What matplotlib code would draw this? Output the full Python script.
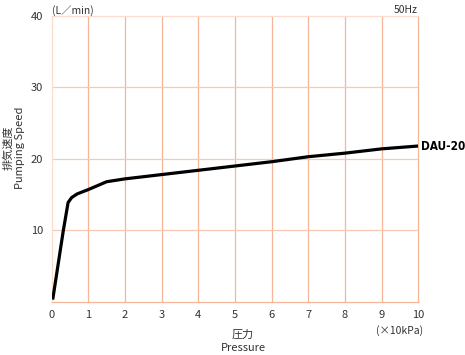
import matplotlib
matplotlib.use('Agg')
import matplotlib.pyplot as plt

plt.rcParams['font.family'] = ['Noto Sans CJK JP', 'DejaVu Sans']

# Curva DAU-20
pressure = [0.03, 0.32, 0.45, 0.55, 0.7, 1.0, 1.5, 2, 3, 4, 5, 6, 7, 8, 9, 10]
speed = [0.3, 10.0, 13.9, 14.6, 15.1, 15.7, 16.8, 17.2, 17.8, 18.4, 19.0, 19.6, 20.3, 20.8, 21.4, 21.8]
x_ticks = list(range(0, 11))
y_ticks = [10, 20, 30, 40]
model = 'DAU-20'

grid_v = '#f5b597'
grid_h = '#f8c9b3'
txt = '#333333'

fig = plt.figure(figsize=(4.65, 3.55), dpi=100)
ax = fig.add_axes([0.111, 0.150, 0.7886, 0.805])

ax.plot(pressure, speed, color='black', lw=2.3, solid_capstyle='butt', zorder=3)
ax.set_xlim(0, 10)
ax.set_ylim(0, 40)
ax.set_xticks(x_ticks)
ax.set_yticks(y_ticks)
ax.tick_params(length=0, labelsize=8, labelcolor=txt, pad=6)

for x in x_ticks[1:-1]:
    ax.axvline(x, color=grid_v, lw=0.9, zorder=1)
for y in y_ticks[:-1]:
    ax.axhline(y, color=grid_h, lw=0.9, zorder=1)

ax.spines['left'].set_color('#fbdcce')
ax.spines['top'].set_color('#fbdcce')
ax.spines['right'].set_color(grid_v)
ax.spines['bottom'].set_color(grid_v)
for s in ax.spines.values():
    s.set_linewidth(0.9)

# rótulo do modelo, fonte condensada
ax.text(10.08, speed[-1], model, fontsize=8.5, fontweight='bold',
        family='DejaVu Sans', fontstretch='condensed', va='center', ha='left')

fig.text(0.111, 0.985, '(L／min)', fontsize=7.5, color=txt, ha='left', va='top')
fig.text(0.899, 0.985, '50Hz', fontsize=7.5, color=txt, ha='right', va='top')
fig.text(0.86, 0.07, '(×10kPa)', fontsize=7.5, color=txt, ha='center', va='center')
fig.text(0.523, 0.057, '圧力', fontsize=8, color=txt, ha='center', va='center')
fig.text(0.523, 0.020, 'Pressure', fontsize=8, color=txt, ha='center', va='center')
fig.text(0.017, 0.585, '排気速度', fontsize=8, color=txt, rotation=90, ha='center', va='center')
fig.text(0.042, 0.585, 'Pumping Speed', fontsize=8, color=txt, rotation=90, ha='center', va='center')

plt.savefig('out.png', dpi=100)
